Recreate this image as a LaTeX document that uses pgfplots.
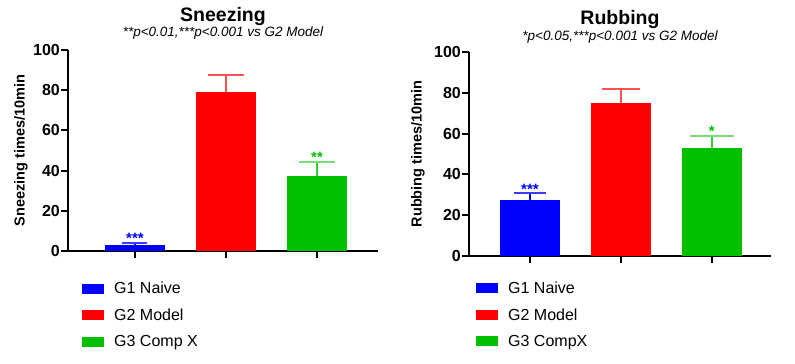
\documentclass[border=0pt]{standalone}
\usepackage{fontspec}
\setmainfont{Liberation Sans}
\usepackage{pgfplots}
\pgfplotsset{compat=1.18}
\definecolor{gblue}{RGB}{0,0,255}
\definecolor{gred}{RGB}{255,0,0}
\definecolor{ggreen}{RGB}{0,192,0}
\definecolor{capblue}{RGB}{60,60,255}
\definecolor{capred}{RGB}{255,80,80}
\definecolor{capgreen}{RGB}{120,220,120}
\tikzset{stars/.style={font=\fontsize{15}{15}\selectfont\bfseries, anchor=base, inner sep=0pt, yshift=-1pt}}
\pgfplotsset{
  myaxis/.style={
    scale only axis, anchor=south west,
    ymin=0, ymax=100, ytick={0,20,...,100},
    xtick={0,1,2}, xticklabels={},
    axis x line*=bottom, axis y line*=left,
    axis line style={line width=2pt, black},
    tick style={line width=2pt, black},
    tick align=outside, major tick length=7pt,
    yticklabel style={font=\fontsize{16}{16}\selectfont\bfseries, inner sep=1pt},
    /pgf/number format/assume math mode=true,
    ybar, bar width=60pt, bar shift=0pt,
    ylabel style={font=\fontsize{14.5}{15}\selectfont\bfseries, anchor=south, inner sep=0pt},
    legend style={draw=none, fill=none, anchor=north west,
      font=\fontsize{16}{16}\selectfont, row sep=9.5pt,
      nodes={inner sep=2pt}},
    legend cell align=left,
    /tikz/every odd column/.style={column sep=8pt},
    legend image code/.code={\fill[##1] (0pt,-5pt) rectangle (22pt,5pt);},
    clip=false,
  },
  eb/.style n args={3}{error bars/.cd, y dir=plus, y explicit,
    error bar style={line width=1.5pt, #1},
    error mark options={rotate=90, #2, mark size=#3, line width=2pt}},
}
\begin{document}
\begin{tikzpicture}
\useasboundingbox (0pt,0pt) rectangle (795pt,364pt);
% ---------- Sneezing ----------
\begin{axis}[myaxis,
  at={(68pt,113pt)}, width=310pt, height=201pt,
  xmin=-0.736, xmax=2.67,
  ylabel={Sneezing times/10min},
  ylabel style={at={([xshift=-40pt]axis description cs:0,0.5)}},
  legend style={at={([xshift=11pt,yshift=-27pt]axis description cs:0,0)}},
]
\addplot[fill=gblue, draw=none, eb={gblue}{capblue}{12.5pt}] coordinates {(0,3) +- (0,1.2)};
\addlegendentry{G1 Naive}
\addplot[fill=gred, draw=none, eb={capred}{capred}{18pt}] coordinates {(1,79) +- (0,8.7)};
\addlegendentry{G2 Model}
\addplot[fill=ggreen, draw=none, eb={ggreen!80!white}{capgreen}{18pt}] coordinates {(2,37.5) +- (0,7)};
\addlegendentry{G3 Comp X}
\node[stars, text=gblue] at (axis cs:0,4.2) {***};
\node[stars, text=ggreen] at (axis cs:2,44.5) {**};
\node[anchor=base, font=\fontsize{19.5}{20}\selectfont\bfseries, inner sep=0pt] at ([yshift=28pt]axis description cs:0.5,1) {Sneezing};
\node[anchor=base, font=\fontsize{13.5}{14}\selectfont\itshape, inner sep=0pt] at ([yshift=13pt]axis description cs:0.5,1) {**p<0.01,***p<0.001 vs G2 Model};
\end{axis}
% ---------- Rubbing ----------
\begin{axis}[myaxis,
  at={(469pt,108.3pt)}, width=302pt, height=203.4pt,
  xmin=-0.67, xmax=2.65,
  ylabel={Rubbing times/10min},
  ylabel style={at={([xshift=-44pt]axis description cs:0,0.5)}},
  legend style={at={([xshift=4pt,yshift=-22pt]axis description cs:0,0)}},
]
\addplot[fill=gblue, draw=none, eb={gblue}{capblue}{16pt}] coordinates {(0,27.4) +- (0,3.3)};
\addlegendentry{G1 Naive}
\addplot[fill=gred, draw=none, eb={capred}{capred}{19pt}] coordinates {(1,74.9) +- (0,6.9)};
\addlegendentry{G2 Model}
\addplot[fill=ggreen, draw=none, eb={ggreen!80!white}{capgreen}{22pt}] coordinates {(2,53) +- (0,6)};
\addlegendentry{G3 CompX}
\node[stars, text=gblue] at (axis cs:0,30.7) {***};
\node[stars, text=ggreen] at (axis cs:2,59) {*};
\node[anchor=base, font=\fontsize{19.5}{20}\selectfont\bfseries, inner sep=0pt] at ([yshift=27.3pt]axis description cs:0.5,1) {Rubbing};
\node[anchor=base, font=\fontsize{13.5}{14}\selectfont\itshape, inner sep=0pt] at ([yshift=11.6pt]axis description cs:0.5,1) {*p<0.05,***p<0.001 vs G2 Model};
\end{axis}
\end{tikzpicture}
\end{document}
